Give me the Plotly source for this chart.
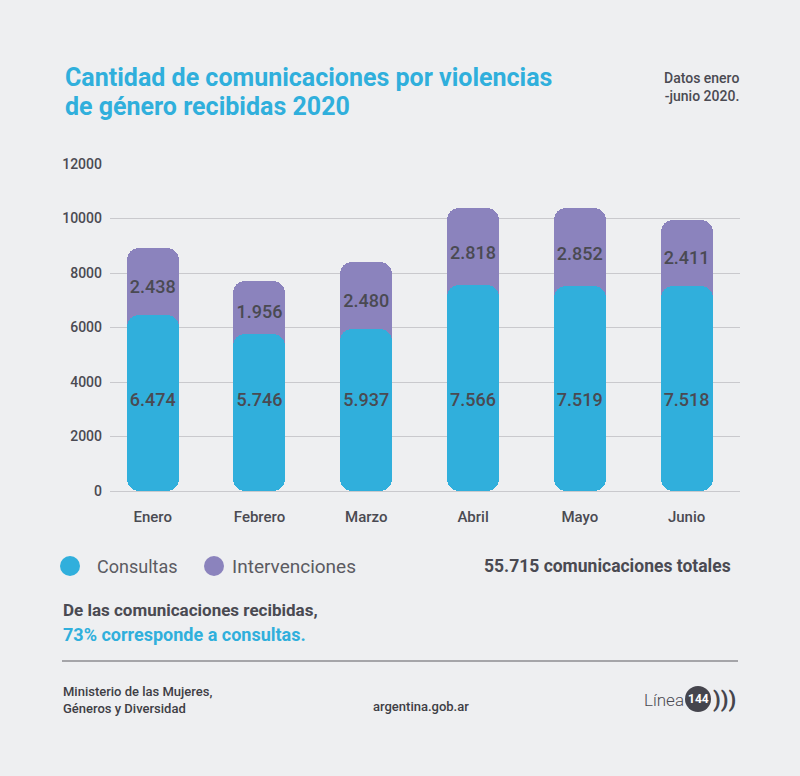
import plotly.graph_objects as go

meses = ["Enero", "Febrero", "Marzo", "Abril", "Mayo", "Junio"]
consultas = [6474, 5746, 5937, 7566, 7519, 7518]
intervenciones = [2438, 1956, 2480, 2818, 2852, 2411]
y_ticks = [0, 2000, 4000, 6000, 8000, 10000, 12000]

BLUE = "#30AFDC"
PURPLE = "#8B83BD"
BG = "#EEEFF1"
DARK = "#4A4A52"
GRID = "#C9C9CD"
FONT = "Roboto"

totales = [c + i for c, i in zip(consultas, intervenciones)]
total_general = sum(totales)
pct_consultas = round(100 * sum(consultas) / total_general)
LABEL_Y_CONSULTAS = 3270  # consultas labels sit at a common height


def fmt(v):
    return f"{v:,}".replace(",", ".")


# plot area in pixels
L, R, T, B = 110, 740, 164, 491
W, H = 800, 776


def px(x):
    return (x - L) / (R - L)


def py(y):
    return (B - y) / (B - T)


bw = 0.487
fig = go.Figure()
# purple full stack (rounded top)
fig.add_trace(go.Bar(x=meses, y=totales, base=0, width=bw, marker=dict(color=PURPLE, line_width=0,
                     cornerradius=12), hoverinfo="skip", showlegend=False))
# blue upper part (rounded top)
fig.add_trace(go.Bar(x=meses, y=[0.75 * c for c in consultas], base=[0.25 * c for c in consultas], width=bw,
                     marker=dict(color=BLUE, line_width=0, cornerradius=12), hoverinfo="skip", showlegend=False))
# blue lower part (rounded bottom)
fig.add_trace(go.Bar(x=meses, y=[-0.75 * c for c in consultas], base=[0.75 * c for c in consultas], width=bw,
                     marker=dict(color=BLUE, line_width=0, cornerradius=12), hoverinfo="skip", showlegend=False))
# value labels
fig.add_trace(go.Scatter(x=meses, y=[LABEL_Y_CONSULTAS] * len(meses), mode="text",
                         text=[fmt(c) for c in consultas],
                         textfont=dict(family=FONT, size=18, color=DARK, weight=500), hoverinfo="skip",
                         showlegend=False))
fig.add_trace(go.Scatter(x=meses, y=[c + 0.4 * i for c, i in zip(consultas, intervenciones)], mode="text",
                         text=[fmt(i) for i in intervenciones],
                         textfont=dict(family=FONT, size=18, color=DARK, weight=500), hoverinfo="skip",
                         showlegend=False))

annotations = []


def ann(text, x, y, size, color=DARK, weight="normal", xanchor="left", yanchor="middle", align="left"):
    annotations.append(dict(text=text, x=px(x), y=py(y), xref="paper", yref="paper", showarrow=False,
                            xanchor=xanchor, yanchor=yanchor, align=align,
                            font=dict(family=FONT, size=size, color=color, weight=weight)))


ann("Cantidad de comunicaciones por violencias", 63, 78, 25, BLUE, "bold")
ann("de género recibidas 2020", 63, 106, 25, BLUE, "bold")
ann("Datos enero<br>-junio 2020.", 741, 87, 14, DARK, 500, xanchor="right", align="right")
ann("Consultas", 95, 566, 18, "#5B5B62")
ann("Intervenciones", 230, 566, 19, "#5B5B62")
ann(f"{fmt(total_general)} comunicaciones totales", 733, 566, 17.5, DARK, "bold", xanchor="right")
ann("De las comunicaciones recibidas,", 61, 610, 17, DARK, "bold")
ann(f"{pct_consultas}% corresponde a consultas.", 61, 634, 18, BLUE, "bold")
ann("Ministerio de las Mujeres,<br>Géneros y Diversidad", 61, 700, 13, "#3E3E45", 500)
ann("argentina.gob.ar", 421, 706, 13, "#3E3E45", 500, xanchor="center")
ann("Línea", 642, 700, 17, DARK, 300)
ann("144", 698, 699, 12, "white", "bold", xanchor="center")
ann("<b>)))</b>", 711, 699, 22, "#45454D")

shapes = [
    dict(type="circle", xref="paper", yref="paper", x0=px(60), x1=px(80), y0=py(556), y1=py(576),
         fillcolor=BLUE, line_width=0),
    dict(type="circle", xref="paper", yref="paper", x0=px(204), x1=px(224), y0=py(556), y1=py(576),
         fillcolor=PURPLE, line_width=0),
    dict(type="line", xref="paper", yref="paper", x0=px(62), x1=px(738), y0=py(661), y1=py(661),
         line=dict(color="#A5A5A9", width=2)),
    dict(type="circle", xref="paper", yref="paper", x0=px(685), x1=px(711), y0=py(686), y1=py(712),
         fillcolor="#45454D", line_width=0),
]

fig.update_layout(
    width=W, height=H,
    margin=dict(l=L, r=W - R, t=T, b=H - B, pad=0),
    paper_bgcolor=BG, plot_bgcolor=BG,
    barmode="overlay",
    bargap=0,
    separators=",.",
    showlegend=False,
    annotations=annotations,
    shapes=shapes,
    xaxis=dict(range=[-0.40, 5.50], showgrid=False, zeroline=False, showline=False, ticks="",
               tickfont=dict(family=FONT, size=15, color=DARK, weight=500), ticklabelstandoff=15,
               fixedrange=True),
    yaxis=dict(range=[0, 12000], tickvals=y_ticks, ticktext=[str(v) for v in y_ticks], showgrid=True,
               gridcolor=GRID, gridwidth=1, zeroline=True, zerolinecolor=GRID, zerolinewidth=1, showline=False,
               ticks="", tickfont=dict(family=FONT, size=14, color=DARK, weight=500), ticklabelstandoff=7,
               fixedrange=True),
)

fig.write_html("out.html", config={"displayModeBar": False})
